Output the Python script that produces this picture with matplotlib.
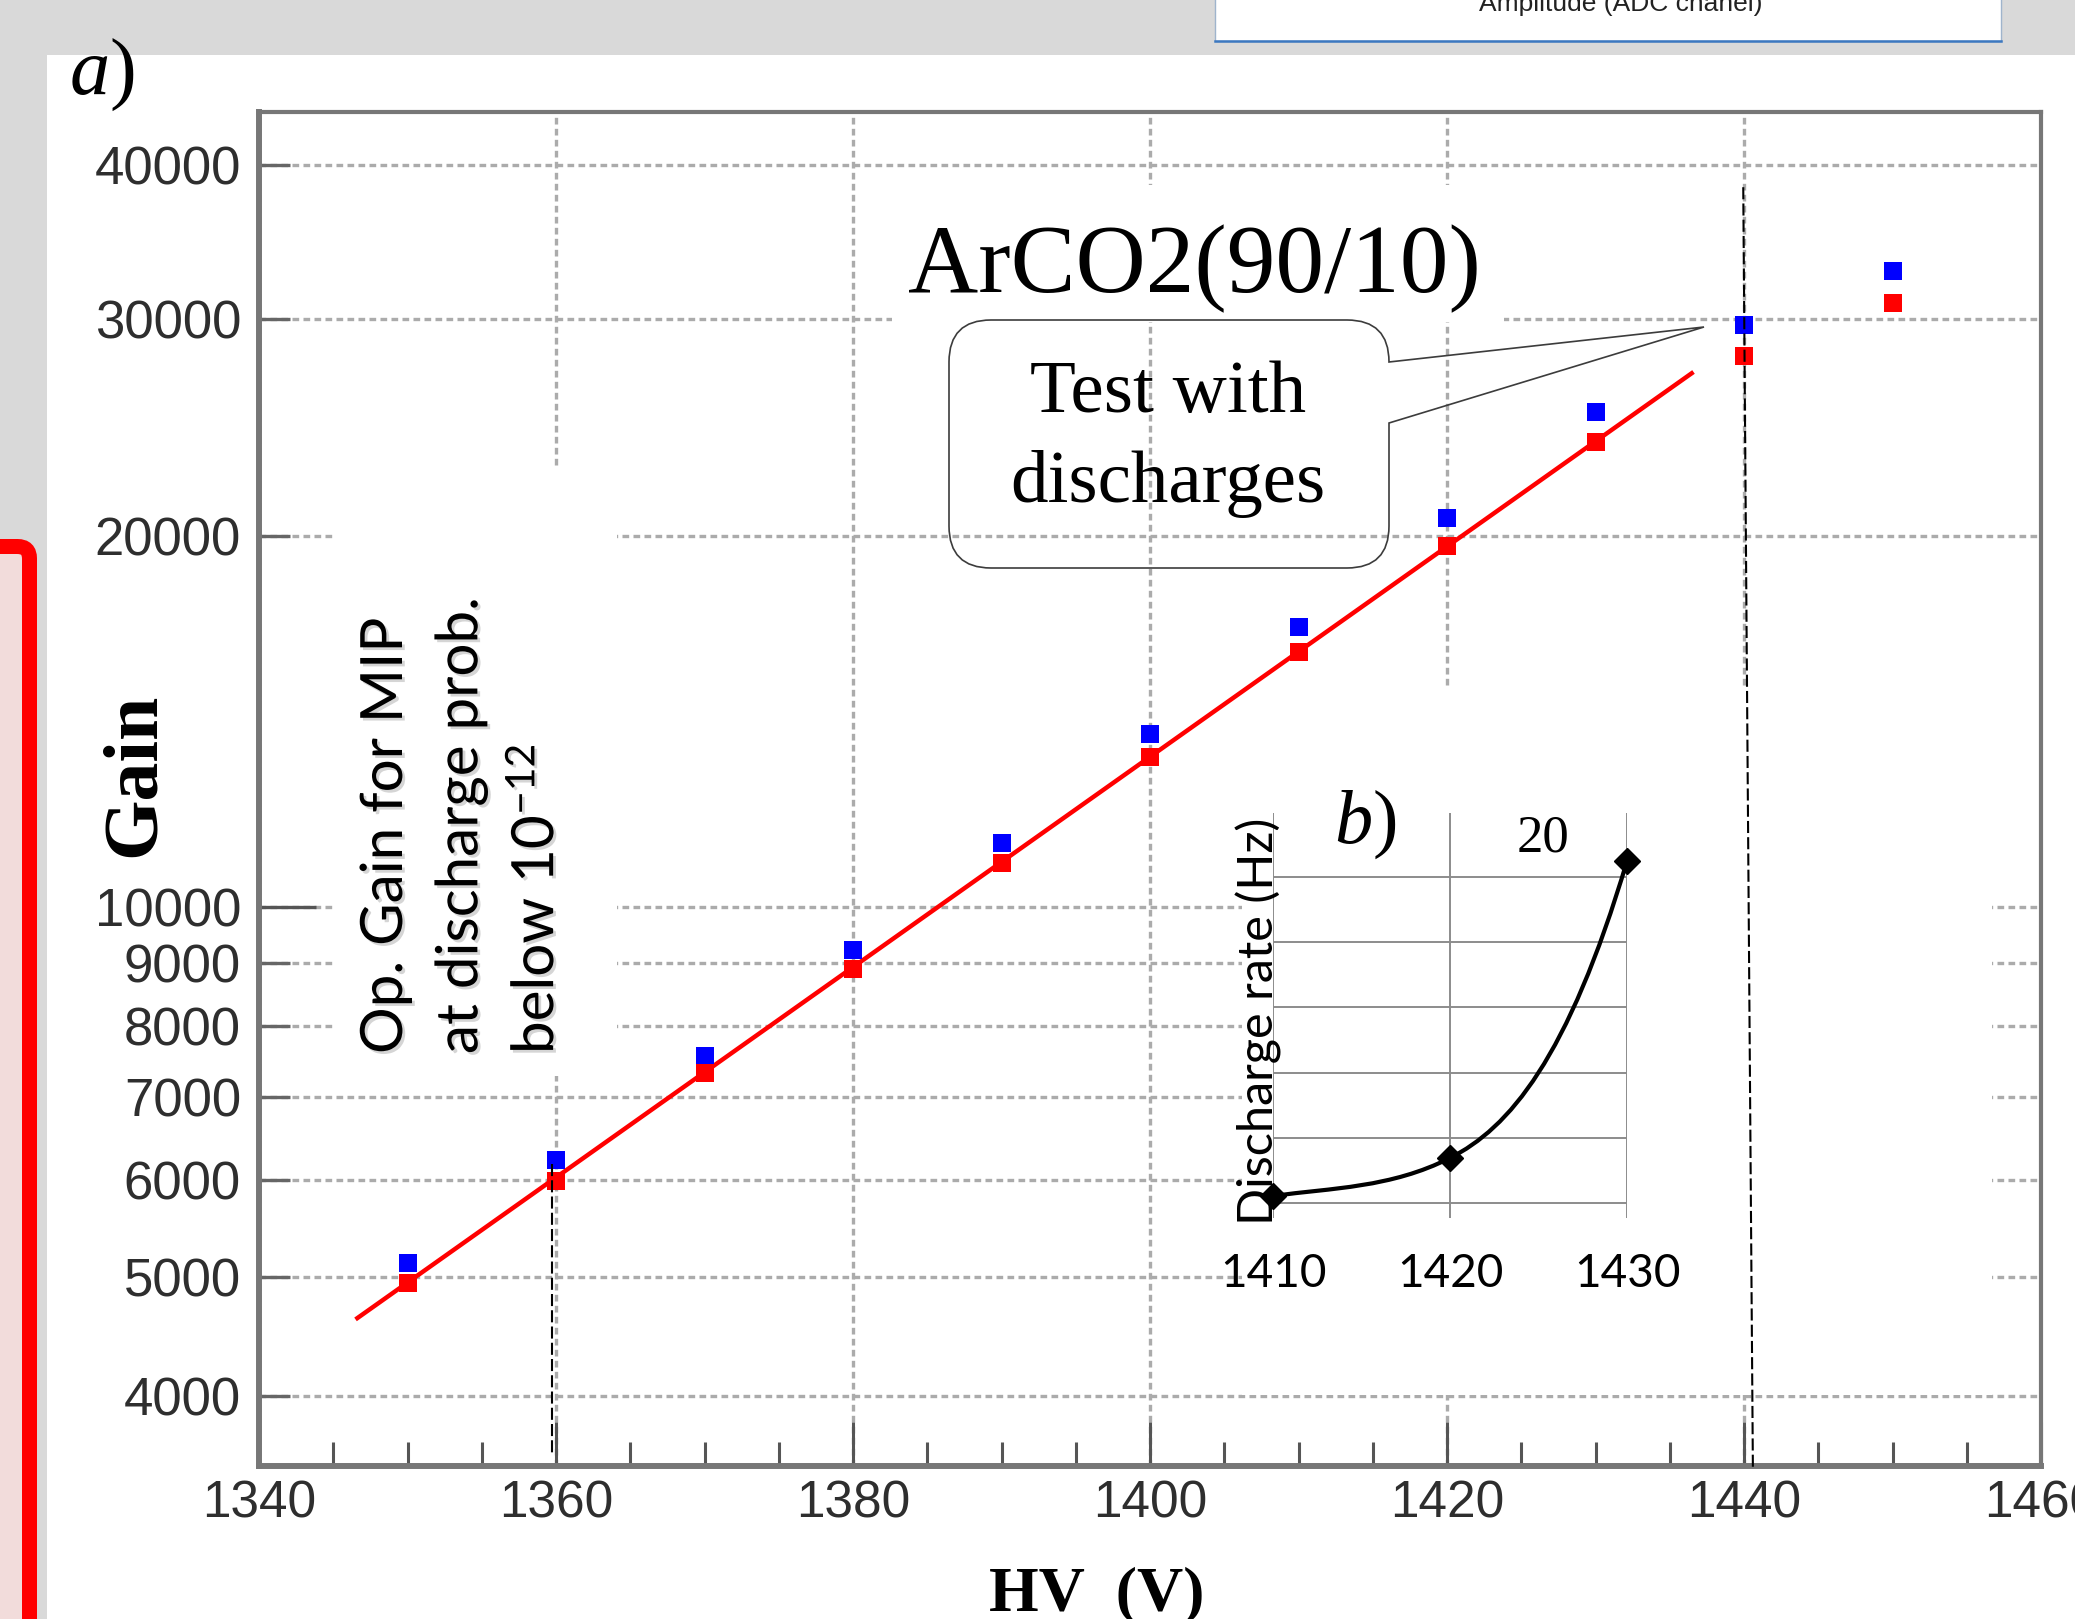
import matplotlib
matplotlib.use("Agg")
import matplotlib.pyplot as plt
import matplotlib.patheffects as pe
from matplotlib.patches import Rectangle, FancyBboxPatch, PathPatch
from matplotlib.path import Path
from matplotlib.transforms import Affine2D
from matplotlib.ticker import FixedLocator, FuncFormatter

# ── Data ──────────────────────────────────────────────────────────────────────
hv        = [1350, 1360, 1370, 1380, 1390, 1400, 1410, 1420, 1430, 1440, 1450]
gain_blue = [5130, 6220, 7560, 9220, 11260, 13800, 16860, 20700, 25230, 29700, 32850]
gain_red  = [4950, 5980, 7320, 8900, 10850, 13230, 16090, 19610, 23850, 28030, 30930]

fit_hv   = [1346.5, 1436.6]
fit_gain = [4620, 27180]

op_line_hv     = [1359.7, 1359.7]
op_line_gain   = [6180, 3600]
test_line_hv   = [1439.95, 1440.6]
test_line_gain = [38400, 3480]

x_ticks  = [1340, 1360, 1380, 1400, 1420, 1440, 1460]
y_major  = [10000]
y_minor  = [4000, 5000, 6000, 7000, 8000, 9000, 20000, 30000, 40000]

rate_hv       = [1410, 1420, 1430]
rate_hz       = [0.43, 2.76, 20.98]
inset_xticks  = [1410, 1420, 1430]
inset_grid_hz = [0, 4, 8, 12, 16, 20]

# ── Setup ─────────────────────────────────────────────────────────────────────
W, H = 2075, 1619
plt.rcParams["font.family"] = ["Liberation Sans", "DejaVu Sans"]
plt.rcParams["mathtext.fontset"] = "custom"
plt.rcParams["mathtext.rm"] = "Liberation Serif"
plt.rcParams["mathtext.it"] = "Liberation Serif:italic"

fig = plt.figure(figsize=(W / 100, H / 100), dpi=100)
fig.patch.set_facecolor("#d9d9d9")

# pixel coords (origin top-left) -> figure
pix = Affine2D().scale(1 / W, -1 / H).translate(0, 1) + fig.transFigure


def box(x0, y0, x1, y1):
    return [x0 / W, 1 - y1 / H, (x1 - x0) / W, (y1 - y0) / H]


# page background pieces
fig.add_artist(Rectangle((47, 55), W, H, transform=pix, fc="white", ec="none", zorder=-1))
fig.add_artist(Rectangle((1215, -5), 786, 46, transform=pix, fc="white",
                         ec="#9fb4cc", lw=1, zorder=-1))
fig.add_artist(plt.Line2D([1215, 2001], [41, 41], transform=pix, color="#3c78c0", lw=1.8))
fig.text(1621, 11, "Amplitude (ADC chanel)", transform=pix, ha="center", va="baseline",
         fontsize=19, color="#222222")
fig.add_artist(FancyBboxPatch((-60, 546.5), 89.5, 1200, boxstyle="round,pad=0,rounding_size=12",
                              transform=pix, fc="#f2dcdb", ec="#ff0000", lw=10.8, zorder=-1))

# ── Main plot ─────────────────────────────────────────────────────────────────
ax = fig.add_axes(box(259, 112, 2041, 1466))
ax.set_yscale("log")
ax.set_axisbelow(True)

grid_kw = dict(color="#ababab", lw=2.4, linestyle=(0, (2, 1.3)))
ax.xaxis.set_major_locator(FixedLocator(x_ticks))
ax.xaxis.set_minor_locator(FixedLocator(list(range(1340, 1461, 5))))
ax.yaxis.set_major_locator(FixedLocator(y_major))
ax.yaxis.set_minor_locator(FixedLocator(y_minor))
fmt = FuncFormatter(lambda v, _: f"{v:.0f}")
ax.yaxis.set_major_formatter(fmt)
ax.yaxis.set_minor_formatter(fmt)
ax.grid(True, axis="x", which="major", **grid_kw)
ax.grid(True, axis="y", which="both", **grid_kw)

ax.tick_params(axis="x", which="major", direction="in", length=32, width=2.2,
               color="#555555", pad=10, labelsize=37, labelcolor="#2e2e2e")
ax.tick_params(axis="x", which="minor", direction="in", length=17, width=2.2, color="#555555")
ax.tick_params(axis="y", which="major", direction="in", length=41, width=2.4,
               color="#555555", pad=13, labelsize=38, labelcolor="#2e2e2e")
ax.tick_params(axis="y", which="minor", direction="in", length=22, width=2.4,
               color="#666666", pad=13, labelsize=38, labelcolor="#2e2e2e")

for side, s in ax.spines.items():
    s.set_color("#777777")
    s.set_linewidth(4.3 if side in ("left", "bottom") else 3.0)

# white patches that mask the grid behind the annotations
for x0, y0, x1, y1 in [(333, 469, 617, 1076), (892, 185, 1504, 322), (1242, 687, 1992, 1395)]:
    r = Rectangle((x0, y0), x1 - x0, y1 - y0, transform=pix, fc="white", ec="none",
                  zorder=1.5, clip_on=False)
    ax.add_artist(r)

ax.plot(fit_hv, fit_gain, color="#ff0000", lw=3.2, zorder=3, solid_capstyle="butt")
ax.plot(hv, gain_blue, "s", color="#0000ff", ms=13, mew=0, zorder=4)
ax.plot(hv, gain_red, "s", color="#ff0000", ms=13, mew=0, zorder=5)
ax.plot(op_line_hv, op_line_gain, color="black", lw=1.5, linestyle=(0, (5.8, 2)),
        zorder=6, clip_on=False)
ax.plot(test_line_hv, test_line_gain, color="black", lw=1.5, linestyle=(0, (5.8, 2)),
        zorder=6, clip_on=False)

ax.set_xlim(1340, 1460)
ax.set_ylim(3512, 44200)

# ── Annotations ───────────────────────────────────────────────────────────────
serif = "Liberation Serif"
fig.text(102, 94, r"$a$)", transform=pix, ha="center", va="baseline", fontsize=58, family=serif)
fig.text(1194, 292, "ArCO2(90/10)", transform=pix, ha="center", va="baseline",
         fontsize=70, family=serif)
fig.text(1168, 412, "Test with", transform=pix, ha="center", va="baseline", fontsize=54, family=serif)
fig.text(1168, 502, "discharges", transform=pix, ha="center", va="baseline", fontsize=54, family=serif)
fig.text(135, 775, "Gain", transform=pix, ha="center", va="center", rotation=90,
         fontsize=56, family=serif, fontweight="bold")
fig.text(1097, 1610, "HV  (V)", transform=pix, ha="center", va="baseline",
         fontsize=46, family=serif, fontweight="bold")

fig.text(359, 1054, "Op. Gain for MIP\nat discharge prob.\nbelow 10$^{\\mathregular{-12}}$",
         transform=pix, ha="left", va="bottom", rotation=90, multialignment="left",
         linespacing=1.52, fontsize=42, family="Lato",
         path_effects=[pe.withSimplePatchShadow(offset=(2, -2), shadow_rgbFace="#888888", alpha=0.35)])

# callout box with pointer
L, R, T, B, rr = 949, 1389, 320, 568, 42
tip, y2 = (1704, 327), 423
verts = [(L + rr, T), (R - rr, T), (R, T), (R, T + rr), tip, (R, y2), (R, B - rr), (R, B),
         (R - rr, B), (L + rr, B), (L, B), (L, B - rr), (L, T + rr), (L, T), (L + rr, T), (L + rr, T)]
codes = [Path.MOVETO, Path.LINETO, Path.CURVE3, Path.CURVE3, Path.LINETO, Path.LINETO,
         Path.LINETO, Path.CURVE3, Path.CURVE3, Path.LINETO, Path.CURVE3, Path.CURVE3,
         Path.LINETO, Path.CURVE3, Path.CURVE3, Path.CLOSEPOLY]
fig.add_artist(PathPatch(Path(verts, codes), transform=pix, fc="none", ec="#3c3c3c", lw=1.2))

# ── Inset b) ──────────────────────────────────────────────────────────────────
ax_in = fig.add_axes(box(1273, 813, 1627, 1218))
ax_in.set_xlim(1410, 1430)
ax_in.set_ylim(-0.92, 23.92)
ax_in.set_xticks(inset_xticks)
ax_in.set_yticks(inset_grid_hz)
ax_in.grid(True, color="#8c8c8c", lw=1.4)
ax_in.tick_params(length=0, labelleft=False, labelsize=33, pad=25)
for lbl in ax_in.get_xticklabels():
    lbl.set_fontfamily("Lato")
for s in ax_in.spines.values():
    s.set_visible(False)
ax_in.patch.set_alpha(0)

# smoothed line through the rate points (cubic Bezier, tangent slopes in Hz/V)
SMOOTH_SLOPES = [0.15, 0.55, 3.65]
cverts, ccodes = [(rate_hv[0], rate_hz[0])], [Path.MOVETO]
for i in range(len(rate_hv) - 1):
    dx = (rate_hv[i + 1] - rate_hv[i]) / 3
    c1 = (rate_hv[i] + dx, rate_hz[i] + dx * SMOOTH_SLOPES[i])
    c2 = (rate_hv[i + 1] - dx, rate_hz[i + 1] - dx * SMOOTH_SLOPES[i + 1])
    cverts += [c1, c2, (rate_hv[i + 1], rate_hz[i + 1])]
    ccodes += [Path.CURVE4] * 3
ax_in.add_patch(PathPatch(Path(cverts, ccodes), fc="none", ec="black", lw=3, clip_on=False, zorder=4))
ax_in.plot(rate_hv, rate_hz, "D", color="black", ms=13, clip_on=False, zorder=5)

fig.text(1365, 843, r"$b$)", transform=pix, ha="center", va="baseline", fontsize=55, family=serif)
fig.text(1543, 838, "20", transform=pix, ha="center", va="center", fontsize=38, family=serif)
fig.text(1259, 1021, "Discharge rate (Hz)", transform=pix, ha="center", va="center",
         rotation=90, fontsize=35, family="Lato")

fig.savefig("out.png", dpi=100, facecolor=fig.get_facecolor())
